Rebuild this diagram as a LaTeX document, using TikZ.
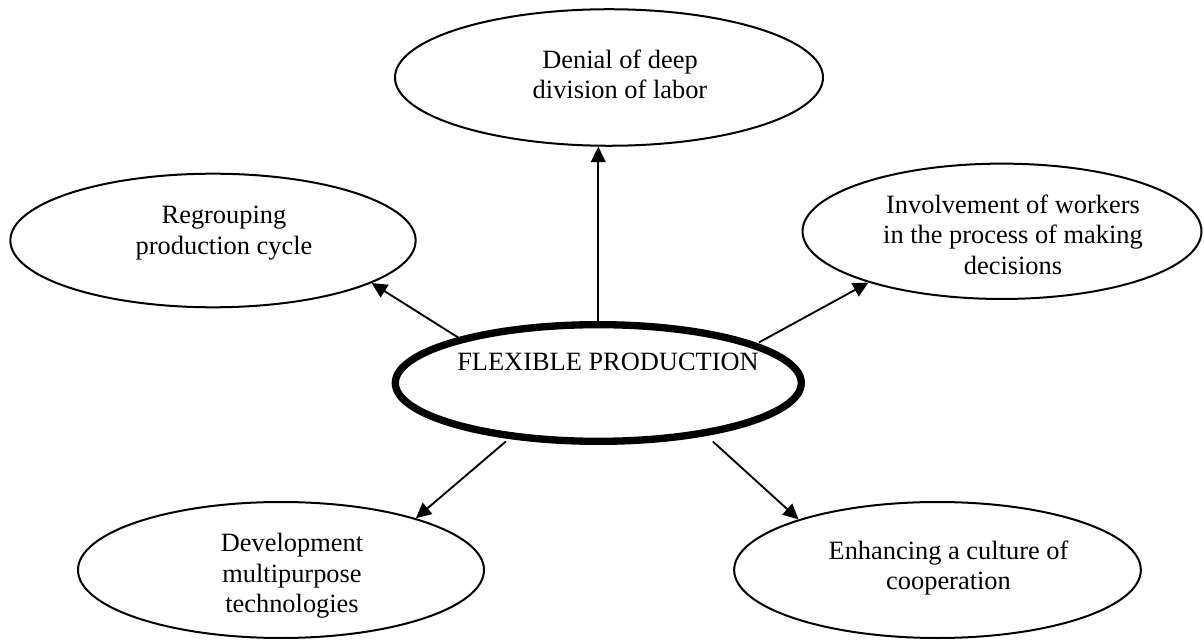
\documentclass[tikz,border=0pt]{standalone}
\usepackage{fontspec}
\setmainfont{Liberation Serif}
\usetikzlibrary{shapes.geometric,arrows.meta}
\begin{document}
\begin{tikzpicture}[x=0.75pt,y=0.75pt,
  oval/.style={ellipse,draw,line width=1.5pt,inner sep=0pt},
  hub/.style={ellipse,draw,line width=5.5pt,inner sep=0pt},
  txt/.style={align=center,inner sep=0pt,font=\fontsize{19.8pt}{22.8pt}\selectfont},
  link/.style={line width=1.4pt,-{Triangle[length=11.5pt,width=11pt]}}]
\useasboundingbox (0,0) rectangle (1204,640);
% ellipses
\node[oval,minimum width=321pt,minimum height=102.4pt] (T) at (609,562.5) {};
\node[oval,minimum width=304pt,minimum height=100.2pt] (L) at (213,399.5) {};
\node[oval,minimum width=299.2pt,minimum height=101.5pt] (R) at (1002,408.7) {};
\node[hub,minimum width=304.5pt,minimum height=87.5pt] (C) at (598.3,257) {};
\node[oval,minimum width=304.5pt,minimum height=102pt] (BL) at (281,70) {};
\node[oval,minimum width=305pt,minimum height=102pt] (BR) at (937.5,70) {};
% texts
\node[txt] (Tt) at (620,562.8) {\strut Denial of deep\\\strut division of labor};
\node[txt] (Lt) at (224,406.9) {\strut Regrouping\\\strut production cycle};
\node[txt] (Rt) at (1013,402.4) {\strut Involvement of workers\\\strut in the process of making\\\strut decisions};
\node[txt] (Ct) at (608,275.1) {\strut FLEXIBLE PRODUCTION};
\node[txt] (BLt) at (292,63.9) {\strut Development\\\strut multipurpose\\\strut technologies};
\node[txt] (BRt) at (948.5,71.8) {\strut Enhancing a culture of\\\strut cooperation};
% connectors
\draw[link] (C.north) -- (C.north |- T.south);
\draw[link] (C.162) -- (L.345);
\draw[link,shorten <=1.5pt] (C.14) -- (R.201);
\draw[link,shorten <=3pt] (C.212) -- (BL.21);
\draw[link,shorten <=6.4pt] (C.334) -- (BR.160);
\end{tikzpicture}
\end{document}
